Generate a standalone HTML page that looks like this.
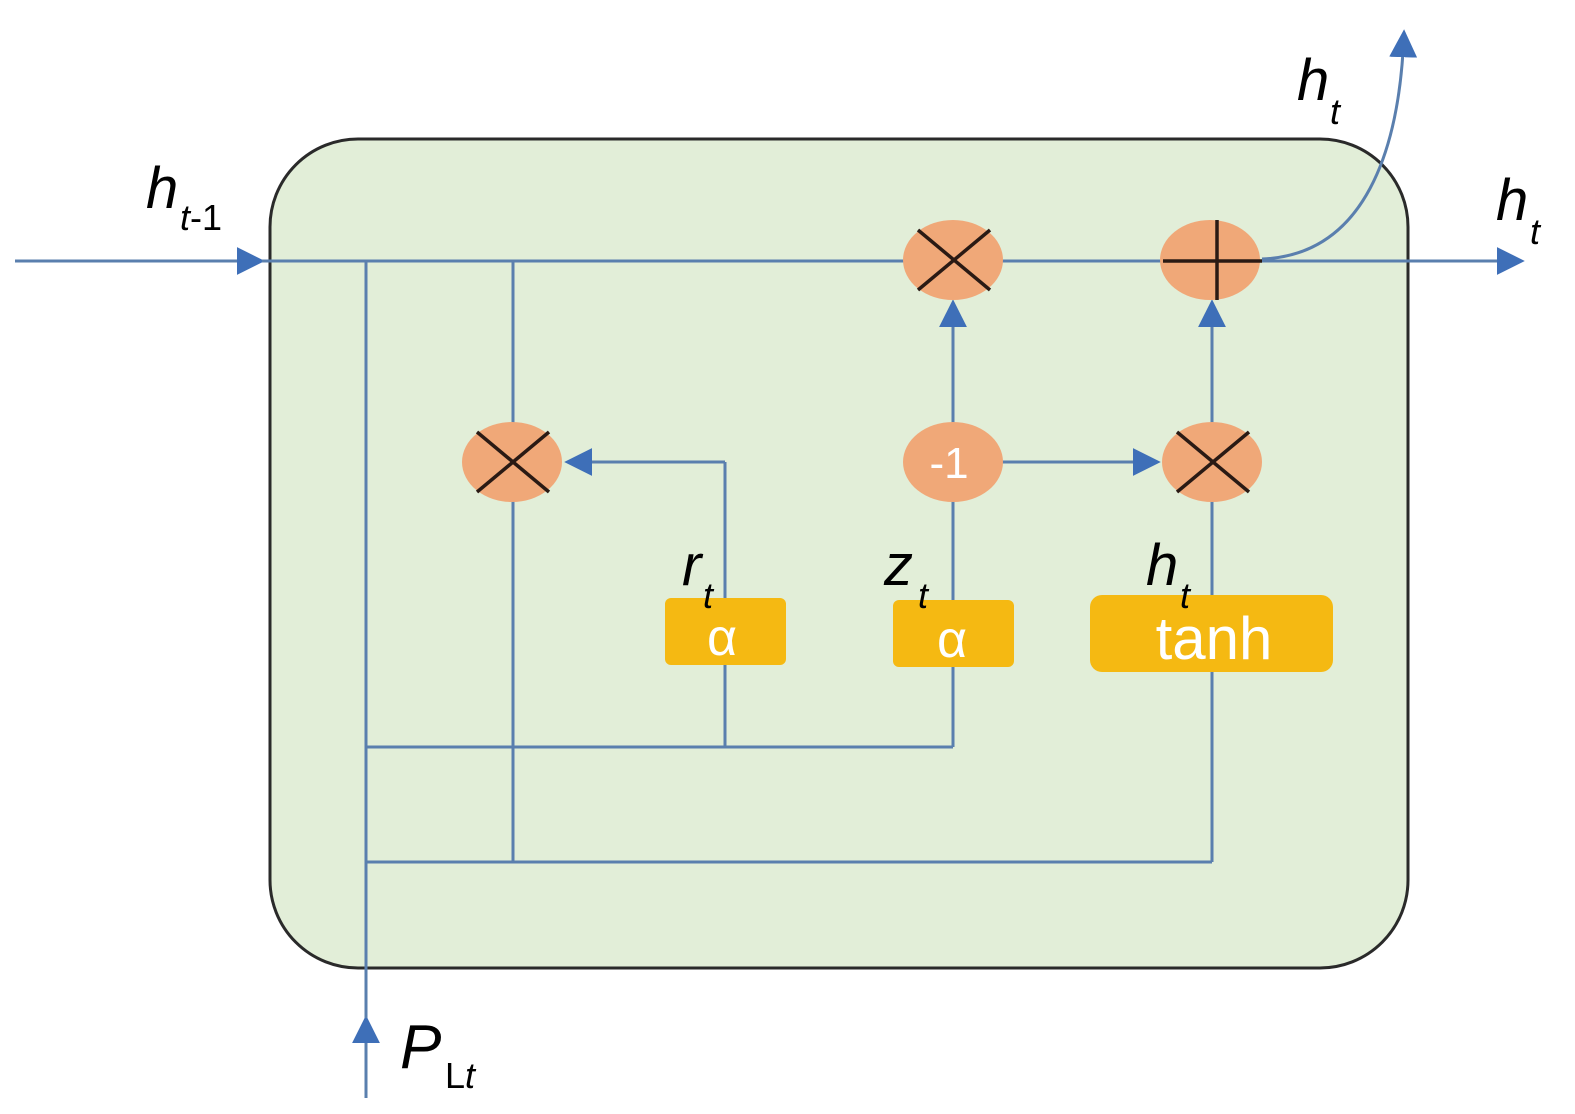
<!DOCTYPE html>
<html><head><meta charset="utf-8"><style>
html,body{margin:0;padding:0;background:#fff}
svg{display:block}
.it{font-family:"Liberation Sans",sans-serif;font-style:italic;fill:#000}
.w{font-family:"Liberation Sans",sans-serif;fill:#fff}
</style></head><body>
<svg width="1575" height="1114" viewBox="0 0 1575 1114" xmlns="http://www.w3.org/2000/svg">
<defs>
<marker id="a" viewBox="0 0 10 10" refX="9" refY="5" markerWidth="28" markerHeight="28" markerUnits="userSpaceOnUse" orient="auto">
<path d="M0,0 L10,5 L0,10 z" fill="#3e6fb8"/></marker>
</defs>
<rect x="270" y="139" width="1138" height="829" rx="88" ry="88" fill="#e2eed8" stroke="#2a2a2a" stroke-width="3"/>
<g stroke="#5a7fae" stroke-width="3" fill="none">
<line x1="15" y1="261" x2="262" y2="261" marker-end="url(#a)"/>
<line x1="262" y1="261" x2="1522" y2="261" marker-end="url(#a)"/>
<line x1="366" y1="1098" x2="366" y2="1018" marker-end="url(#a)"/>
<line x1="366" y1="1018" x2="366" y2="261"/>
<line x1="513" y1="261" x2="513" y2="862"/>
<line x1="366" y1="747" x2="953" y2="747"/>
<line x1="366" y1="862" x2="1212" y2="862"/>
<line x1="725" y1="747" x2="725" y2="462"/>
<line x1="725" y1="462" x2="567" y2="462" marker-end="url(#a)"/>
<line x1="953" y1="747" x2="953" y2="500"/>
<line x1="953" y1="425" x2="953" y2="302" marker-end="url(#a)"/>
<line x1="1000" y1="462" x2="1158" y2="462" marker-end="url(#a)"/>
<line x1="1212" y1="862" x2="1212" y2="500"/>
<line x1="1212" y1="425" x2="1212" y2="302" marker-end="url(#a)"/>
<path d="M1262,259 C1365,255 1400,150 1404,32" marker-end="url(#a)"/>
</g>
<g fill="#f0a878">
<ellipse cx="953" cy="260" rx="50" ry="40"/>
<ellipse cx="1210" cy="260" rx="50" ry="40"/>
<ellipse cx="512" cy="462" rx="50" ry="40"/>
<ellipse cx="953" cy="462" rx="50" ry="40"/>
<ellipse cx="1212" cy="462" rx="50" ry="40"/>
</g>
<g stroke="#2a1a14" stroke-width="3.5">
<line x1="918" y1="230" x2="990" y2="290"/><line x1="990" y1="230" x2="918" y2="290"/>
<line x1="477" y1="432" x2="549" y2="492"/><line x1="549" y1="432" x2="477" y2="492"/>
<line x1="1177" y1="432" x2="1249" y2="492"/><line x1="1249" y1="432" x2="1177" y2="492"/>
<line x1="1163" y1="261" x2="1262" y2="261"/><line x1="1217" y1="220" x2="1217" y2="300"/>
</g>
<text class="w" x="949" y="478" font-size="44" text-anchor="middle">-1</text>
<g fill="#f5b912">
<rect x="665" y="598" width="121" height="67" rx="6"/>
<rect x="893" y="600" width="121" height="67" rx="6"/>
<rect x="1090" y="595" width="243" height="77" rx="12"/>
</g>
<text class="w" x="722" y="655" font-size="52" text-anchor="middle">α</text>
<text class="w" x="952" y="657" font-size="52" text-anchor="middle">α</text>
<text class="w" x="1214" y="659" font-size="60" text-anchor="middle">tanh</text>
<text class="it" x="146" y="208" font-size="58">h</text>
<text class="it" x="180" y="230" font-size="36">t<tspan style="font-style:normal">-1</tspan></text>
<text class="it" x="1297" y="100" font-size="58">h</text>
<text class="it" x="1330" y="124" font-size="36">t</text>
<text class="it" x="1496" y="220" font-size="58">h</text>
<text class="it" x="1530" y="244" font-size="36">t</text>
<text class="it" x="682" y="585" font-size="58">r</text>
<text class="it" x="703" y="608" font-size="36">t</text>
<text class="it" x="884" y="585" font-size="58">z</text>
<text class="it" x="918" y="608" font-size="36">t</text>
<text class="it" x="1146" y="585" font-size="58">h</text>
<text class="it" x="1180" y="608" font-size="36">t</text>
<text class="it" x="400" y="1068" font-size="62">P</text>
<text class="it" x="445" y="1088" font-size="36"><tspan style="font-style:normal">L</tspan>t</text>
</svg>
</body></html>
